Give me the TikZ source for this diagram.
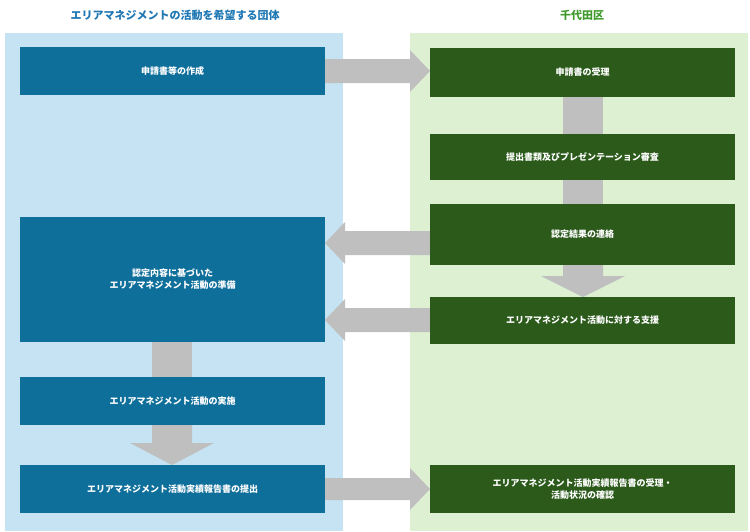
\documentclass[tikz,border=0pt]{standalone}
\usepackage{fontspec}
\setmainfont{Noto Sans CJK JP}
\usetikzlibrary{calc}
\definecolor{lb}{HTML}{C5E3F3}
\definecolor{lg}{HTML}{DDF0D2}
\definecolor{bb}{HTML}{0F6F9B}
\definecolor{gb}{HTML}{2B5A1B}
\definecolor{ar}{HTML}{BFBFBF}
\definecolor{tb}{HTML}{1F78B4}
\definecolor{tg}{HTML}{3E9A2A}
\tikzset{
 bbox/.style={fill=bb,text=white,font=\fontsize{9}{12}\selectfont\bfseries,align=center,inner sep=0},
 gbox/.style={fill=gb,text=white,font=\fontsize{9}{12}\selectfont\bfseries,align=center,inner sep=0},
 arw/.style={fill=ar,draw=none}}
\begin{document}
\begin{tikzpicture}[x=1pt,y=-1pt]
\useasboundingbox (0,0) rectangle (750,531);
\fill[lb] (5,33) rectangle (343,531);
\fill[lg] (410,33) rectangle (748,531);
\node[text=tb,font=\fontsize{11}{13}\selectfont\bfseries] (t1) at (175,15) {エリアマネジメントの活動を希望する団体};
\node[text=tg,font=\fontsize{11}{13}\selectfont\bfseries] (t2) at (582,15) {千代田区};
% gray arrows (drawn first)
\fill[arw] (325,59) -- (410,59) -- (410,50) -- (430,71) -- (410,92) -- (410,83) -- (325,83) -- cycle;
\fill[arw] (325,478) -- (410,478) -- (410,468) -- (430,489) -- (410,510) -- (410,500) -- (325,500) -- cycle;
\fill[arw] (563,97) rectangle (603,134);
\fill[arw] (563,180) rectangle (603,204);
\fill[arw] (563,265) -- (603,265) -- (603,276) -- (625,276) -- (583,297) -- (541,276) -- (563,276) -- cycle;
\fill[arw] (430,231) -- (345,231) -- (345,222) -- (325,243) -- (345,264) -- (345,255) -- (430,255) -- cycle;
\fill[arw] (430,308) -- (345,308) -- (345,299) -- (325,320) -- (345,341) -- (345,332) -- (430,332) -- cycle;
\fill[arw] (152,342) rectangle (192,377);
\fill[arw] (152,425) -- (192,425) -- (192,443) -- (214,443) -- (172,465) -- (130,443) -- (152,443) -- cycle;
% boxes
\node[bbox,minimum width=305,minimum height=48] (l1) at (172.5,71) {申請書等の作成};
\node[bbox,minimum width=305,minimum height=125] (l2) at (172.5,279.5) {認定内容に基づいた\\エリアマネジメント活動の準備};
\node[bbox,minimum width=305,minimum height=48] (l3) at (172.5,401) {エリアマネジメント活動の実施};
\node[bbox,minimum width=305,minimum height=48] (l4) at (172.5,489) {エリアマネジメント活動実績報告書の提出};
\node[gbox,minimum width=305,minimum height=49] (r1) at (582.5,72.5) {申請書の受理};
\node[gbox,minimum width=305,minimum height=46] (r2) at (582.5,157) {提出書類及びプレゼンテーション審査};
\node[gbox,minimum width=305,minimum height=61] (r3) at (582.5,234.5) {認定結果の連絡};
\node[gbox,minimum width=305,minimum height=47] (r4) at (582.5,320.5) {エリアマネジメント活動に対する支援};
\node[gbox,minimum width=305,minimum height=48] (r5) at (582.5,489) {エリアマネジメント活動実績報告書の受理・\\活動状況の確認};
\end{tikzpicture}
\end{document}
